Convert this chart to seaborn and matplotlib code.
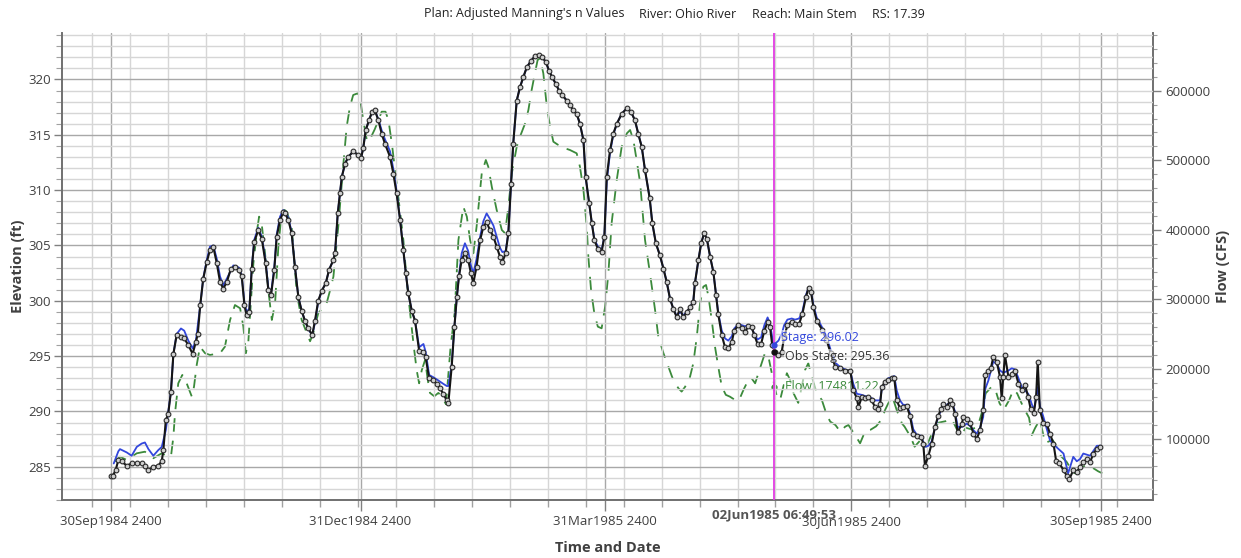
import numpy as np
import pandas as pd
import matplotlib
matplotlib.use("Agg")
import matplotlib.pyplot as plt
import seaborn as sns

# ---------------- data (x = days after 30Sep1984 2400) ----------------
obs_day = [0.0, 0.7, 1.7, 2.7, 3.9, 5.8, 7.6, 9.5, 11.3, 12.5, 13.8, 15.6, 17.4, 18.7, 19.3, 20.2, 21.1,
           22.1, 23.0, 24.2, 25.8, 27.0, 28.5, 30.1, 31.3, 32.0, 32.9, 34.0, 35.3, 36.5, 37.7, 39.0, 40.2,
           41.4, 42.7, 44.2, 45.7, 47.2, 48.2, 49.2, 50.0, 51.0, 51.9, 52.8, 54.3, 55.6, 57.0, 58.0, 59.0,
           60.2, 61.1, 62.3, 63.5, 64.2, 65.4, 66.6, 67.8, 69.1, 70.3, 71.5, 72.8, 74.2, 75.2, 76.4, 77.7,
           79.2, 80.4, 82.0, 82.6, 83.6, 84.4, 85.1, 86.3, 87.5, 89.3, 91.0, 92.2, 93.0, 93.9, 95.1, 96.3,
           97.3, 98.6, 99.8, 101.0, 102.9, 104.1, 105.3, 106.6, 107.8, 108.7, 109.6, 110.9, 112.1, 113.6,
           115.2, 116.0, 117.3, 118.8, 120.1, 121.3, 122.5, 123.8, 124.4, 125.6, 126.6, 127.5, 128.3, 129.3,
           130.5, 131.7, 132.7, 133.6, 134.8, 136.1, 137.3, 138.5, 139.7, 141.0, 142.2, 143.4, 144.3, 145.5,
           146.5, 147.5, 148.3, 149.6, 150.8, 152.0, 153.3, 154.9, 156.3, 157.8, 159.0, 160.3, 161.5, 162.7,
           164.0, 165.2, 166.4, 168.0, 169.2, 170.5, 171.7, 172.9, 174.2, 175.0, 176.3, 177.3, 178.2, 179.5,
           180.9, 181.9, 182.8, 184.0, 185.2, 186.5, 188.3, 190.2, 191.7, 193.2, 194.4, 195.7, 196.9, 198.6,
           199.6, 200.9, 202.4, 203.7, 204.9, 206.1, 207.3, 208.6, 209.8, 211.0, 212.3, 213.5, 214.7, 215.3,
           216.6, 217.6, 218.7, 219.7, 220.9, 222.1, 223.1, 223.9, 225.2, 226.4, 227.6, 228.9, 229.8, 231.3,
           232.6, 233.8, 235.0, 236.2, 237.2, 238.4, 239.7, 240.9, 242.1, 243.0, 243.8, 244.8, 246.1, 247.3,
           248.2, 249.4, 251.0, 252.2, 253.7, 254.9, 256.2, 257.2, 258.1, 259.0, 260.2, 262.2, 263.8, 265.3,
           267.1, 268.9, 270.7, 272.6, 273.7, 275.0, 275.6, 276.8, 278.0, 279.2, 280.5, 281.7, 282.7, 283.6,
           284.2, 285.4, 286.6, 287.9, 288.8, 289.7, 290.9, 292.1, 293.4, 294.6, 295.8, 297.1, 298.7, 299.5,
           300.1, 301.4, 302.6, 303.8, 305.0, 306.0, 306.9, 308.1, 309.4, 310.2, 311.2, 312.2, 313.7, 314.3,
           315.5, 316.7, 318.0, 319.2, 320.4, 321.6, 322.3, 323.5, 324.4, 325.3, 326.6, 327.8, 328.4, 329.0,
           329.6, 330.9, 332.1, 333.3, 334.6, 335.8, 337.0, 338.2, 339.1, 340.3, 341.1, 341.7, 342.5, 343.8,
           345.0, 346.2, 347.5, 348.5, 349.7, 351.2, 352.4, 353.4, 354.8, 356.1, 357.3, 358.5, 359.8, 361.0,
           362.2, 363.5, 364.7]
obs_stage = [284.2, 284.2, 284.7, 285.6, 285.5, 285.1, 285.3, 285.3, 285.3, 285.1, 284.7, 285.0, 285.1, 285.5,
             286.5, 289.2, 289.8, 291.8, 295.2, 296.9, 296.7, 296.6, 296.0, 295.2, 296.3, 297.0, 299.6, 302.0,
             303.5, 304.6, 304.9, 303.4, 301.7, 301.1, 301.7, 302.9, 303.1, 302.8, 302.2, 299.6, 298.7, 299.0,
             302.9, 305.3, 306.4, 305.6, 303.4, 301.0, 300.5, 302.8, 305.8, 307.3, 308.0, 307.9, 307.3, 306.1,
             303.1, 300.3, 299.1, 298.2, 297.5, 296.9, 298.2, 300.0, 300.9, 301.6, 302.8, 303.7, 304.3, 307.9,
             309.7, 311.2, 312.4, 313.0, 313.5, 313.2, 312.9, 313.8, 315.4, 316.3, 317.1, 317.2, 316.3, 315.1,
             314.2, 313.0, 311.5, 309.7, 307.3, 304.6, 302.5, 300.7, 299.1, 298.2, 295.5, 295.4, 294.9, 293.0,
             292.8, 292.5, 292.1, 291.6, 291.0, 290.8, 294.0, 297.6, 300.3, 302.2, 303.7, 304.3, 303.7, 302.5,
             301.6, 303.1, 305.5, 306.7, 307.1, 306.4, 305.8, 304.9, 304.0, 303.5, 304.3, 306.1, 310.6, 314.2,
             318.1, 319.3, 320.2, 321.1, 321.7, 322.1, 322.2, 322.0, 321.6, 320.8, 320.2, 319.6, 319.0, 318.6,
             318.1, 317.7, 317.2, 316.9, 316.0, 314.5, 311.2, 308.8, 307.0, 305.5, 304.7, 304.4, 305.8, 311.2,
             313.6, 315.1, 316.0, 316.9, 317.4, 317.1, 316.3, 315.1, 313.9, 311.8, 309.3, 307.0, 305.2, 304.1,
             302.9, 301.7, 300.2, 299.3, 298.5, 299.3, 298.5, 299.0, 299.4, 299.9, 301.6, 303.7, 305.2, 306.1,
             305.6, 304.0, 302.6, 300.5, 298.8, 296.9, 295.8, 295.7, 296.3, 297.3, 297.8, 297.5, 297.2, 297.7,
             297.6, 296.9, 296.1, 296.1, 297.3, 298.1, 297.6, 296.0, 295.4, 295.1, 295.4, 296.7, 297.8, 298.1,
             297.9, 297.9, 298.8, 300.3, 301.2, 300.8, 299.4, 298.2, 297.4, 296.5, 295.3, 294.0, 293.9, 293.7,
             293.7, 291.9, 291.2, 290.4, 291.3, 291.2, 291.3, 291.0, 290.4, 290.2, 290.7, 292.2, 292.7, 292.8,
             293.0, 293.0, 291.0, 290.3, 290.4, 290.5, 289.6, 288.0, 287.8, 287.7, 287.1, 285.1, 286.0, 287.1,
             288.6, 289.6, 290.2, 290.7, 290.4, 291.0, 290.7, 289.8, 288.1, 288.9, 289.5, 289.3, 289.0, 288.0,
             287.5, 288.3, 290.1, 293.3, 293.7, 293.9, 294.9, 294.5, 293.1, 291.2, 293.1, 295.1, 293.1, 293.4,
             293.7, 292.5, 291.9, 292.4, 291.3, 290.2, 289.9, 291.3, 294.5, 290.1, 289.0, 288.9, 288.0, 287.1,
             285.5, 285.3, 284.7, 284.2, 283.9, 284.7, 284.5, 285.0, 285.4, 285.7, 285.4, 286.2, 286.6, 286.8]

sim_day = [1.0, 2.7, 3.3, 5.8, 7.6, 9.5, 11.3, 12.5, 13.8, 15.6, 17.4, 18.7, 20.2, 22.1, 23.0, 24.2, 25.8,
           27.0, 28.5, 30.1, 31.3, 32.9, 34.0, 35.3, 36.5, 37.7, 39.0, 40.2, 41.4, 42.7, 45.1, 47.2, 48.2,
           49.2, 50.0, 51.0, 51.9, 52.8, 54.3, 55.6, 57.0, 58.0, 59.0, 60.2, 61.1, 62.3, 63.5, 64.2, 65.4,
           66.6, 67.8, 69.1, 70.3, 71.5, 72.8, 74.2, 75.2, 76.4, 77.7, 79.2, 80.4, 82.0, 82.6, 83.6, 84.4,
           85.1, 86.3, 87.5, 89.3, 91.0, 92.2, 93.0, 93.9, 95.1, 96.3, 97.3, 98.6, 99.8, 101.0, 102.9, 104.1,
           105.3, 106.6, 107.8, 108.7, 109.6, 110.9, 112.1, 113.6, 115.2, 116.0, 117.3, 118.8, 120.1, 121.3,
           122.5, 123.8, 124.4, 125.6, 126.6, 127.5, 128.3, 129.3, 130.5, 131.7, 132.7, 133.6, 134.8, 136.1,
           137.3, 138.5, 139.7, 141.0, 142.2, 143.4, 144.3, 145.5, 146.5, 147.5, 148.3, 149.6, 150.8, 152.0,
           153.3, 154.9, 156.3, 157.8, 159.0, 160.3, 161.5, 162.7, 164.0, 165.2, 166.4, 168.0, 169.2, 170.5,
           171.7, 172.9, 174.2, 175.0, 176.3, 177.3, 178.2, 179.5, 180.9, 181.9, 182.8, 184.0, 185.2, 186.5,
           188.3, 190.2, 191.7, 193.2, 194.4, 195.7, 196.9, 198.6, 199.6, 200.9, 202.4, 203.7, 204.9, 206.1,
           207.3, 208.6, 209.8, 211.0, 212.3, 213.5, 214.7, 215.3, 216.6, 217.6, 218.7, 219.7, 220.9, 222.1,
           223.1, 223.9, 225.2, 226.4, 227.6, 228.9, 229.8, 231.3, 232.6, 233.8, 235.0, 236.2, 237.2, 238.4,
           239.7, 240.9, 242.1, 243.0, 244.3, 246.1, 247.3, 248.2, 249.4, 251.0, 252.2, 253.7, 254.9, 256.2,
           257.2, 258.1, 259.0, 260.2, 262.2, 263.8, 265.3, 267.1, 268.9, 270.7, 272.6, 273.7, 275.0, 276.8,
           278.0, 280.5, 281.7, 283.6, 284.2, 285.4, 286.6, 287.9, 288.8, 289.7, 290.9, 292.1, 293.4, 294.6,
           295.8, 297.1, 298.7, 300.1, 301.4, 302.6, 303.8, 305.0, 306.0, 306.9, 308.1, 309.4, 310.2, 311.2,
           312.2, 313.7, 315.5, 316.7, 318.0, 319.2, 320.4, 321.6, 322.3, 323.5, 325.3, 326.6, 327.8, 329.0,
           330.9, 332.1, 333.3, 334.6, 335.8, 337.0, 338.2, 340.3, 341.7, 342.5, 343.8, 346.2, 347.5, 348.5,
           351.2, 352.9, 354.8, 356.1, 357.3, 358.5, 361.0, 363.5, 365.0]
sim_stage = [285.3, 286.4, 286.6, 286.3, 286.0, 286.8, 287.1, 287.2, 286.6, 286.0, 286.5, 286.8, 288.3, 291.8,
             295.2, 297.0, 297.5, 297.3, 296.4, 295.7, 296.4, 299.6, 302.0, 303.7, 304.9, 305.0, 303.8, 302.2,
             301.4, 302.0, 303.2, 303.0, 302.3, 299.8, 299.0, 299.3, 303.0, 305.5, 306.6, 305.8, 303.6, 301.2,
             300.7, 303.0, 306.0, 307.6, 308.2, 308.1, 307.5, 306.2, 303.1, 300.3, 299.1, 298.2, 297.4, 296.9,
             298.0, 299.9, 300.9, 301.6, 302.8, 303.7, 304.3, 307.9, 309.7, 311.2, 312.4, 313.0, 313.5, 313.2,
             312.9, 313.8, 315.4, 316.3, 317.1, 317.2, 316.4, 315.4, 314.6, 313.5, 311.9, 309.9, 307.3, 304.6,
             302.5, 300.7, 299.1, 298.2, 295.8, 296.1, 295.4, 293.3, 293.1, 292.9, 292.7, 292.5, 292.3, 292.3,
             294.2, 297.6, 300.3, 302.3, 304.3, 305.2, 304.5, 303.2, 302.5, 303.8, 305.8, 307.2, 307.9, 307.4,
             306.8, 305.8, 304.8, 304.4, 304.5, 306.1, 310.6, 314.2, 318.1, 319.3, 320.2, 321.1, 321.7, 322.1,
             322.2, 322.0, 321.6, 320.8, 320.2, 319.6, 319.0, 318.6, 318.1, 317.7, 317.2, 316.9, 316.0, 314.5,
             311.2, 308.8, 307.0, 305.6, 304.9, 304.6, 305.8, 310.8, 313.4, 315.0, 316.0, 316.9, 317.4, 317.1,
             316.3, 315.1, 313.9, 311.8, 309.3, 307.0, 305.2, 304.1, 302.9, 301.7, 300.2, 299.3, 298.6, 299.0,
             298.7, 299.0, 299.4, 300.0, 301.6, 303.7, 305.2, 306.1, 305.6, 304.0, 302.6, 300.5, 298.9, 297.3,
             296.6, 296.4, 296.8, 297.5, 297.9, 297.8, 297.7, 297.8, 297.6, 297.0, 296.5, 296.7, 297.8, 298.5,
             297.9, 296.0, 296.4, 297.0, 297.8, 298.3, 298.4, 298.3, 298.4, 299.0, 300.5, 301.2, 300.9, 299.6,
             298.5, 297.6, 296.8, 295.6, 294.4, 294.0, 293.8, 293.6, 292.5, 291.6, 291.5, 291.4, 291.2, 291.0,
             291.0, 292.0, 292.6, 293.0, 293.1, 293.2, 291.9, 291.0, 290.6, 290.6, 289.8, 288.4, 287.9, 287.8,
             286.8, 286.9, 287.3, 288.5, 289.5, 290.1, 290.6, 290.6, 290.8, 290.7, 290.0, 288.6, 288.6, 288.9,
             288.7, 288.3, 288.0, 288.5, 289.5, 292.0, 292.8, 294.5, 294.3, 293.7, 293.5, 293.7, 293.9, 293.8,
             293.0, 292.2, 291.9, 291.6, 290.1, 292.2, 290.5, 289.5, 287.4, 287.0, 286.8, 286.2, 284.4, 285.9,
             285.5, 285.7, 286.2, 286.0, 286.9, 286.9]

flow_day = [1.5, 3.3, 5.8, 9.5, 12.5, 15.6, 18.7, 19.9, 22.1, 23.0, 23.6, 24.8, 26.3, 27.9, 29.8, 30.6, 31.6,
            32.8, 34.7, 36.5, 40.2, 42.0, 43.9, 45.7, 47.6, 48.8, 49.7, 50.6, 51.3, 52.5, 53.7, 54.6, 55.6,
            56.8, 58.0, 59.3, 60.5, 61.7, 62.9, 64.0, 64.8, 66.6, 68.5, 70.3, 72.2, 73.4, 74.6, 76.4, 79.5,
            80.8, 82.0, 83.8, 85.7, 86.9, 88.1, 89.3, 91.0, 91.8, 93.0, 94.3, 95.1, 97.3, 99.8, 101.2, 102.3,
            103.7, 104.7, 105.9, 107.8, 109.0, 110.3, 111.5, 112.7, 113.6, 114.6, 115.8, 116.8, 117.6, 119.2,
            120.7, 121.9, 123.5, 125.2, 126.7, 128.1, 129.9, 131.2, 132.4, 133.6, 134.8, 136.7, 138.2, 139.1,
            140.4, 142.2, 144.1, 145.3, 146.5, 147.8, 149.6, 150.8, 152.7, 153.9, 155.1, 156.3, 157.3, 158.2,
            159.4, 160.7, 161.9, 163.1, 164.9, 166.2, 167.4, 169.2, 171.7, 172.9, 174.2, 175.4, 176.0, 177.0,
            178.2, 179.5, 180.9, 182.2, 183.4, 184.6, 186.5, 188.3, 190.2, 191.4, 192.6, 193.8, 195.1, 196.9,
            198.7, 200.6, 201.8, 203.7, 205.5, 207.3, 209.2, 210.4, 211.7, 213.5, 214.7, 216.0, 217.2, 218.4,
            219.4, 220.3, 221.5, 222.7, 223.9, 225.2, 226.7, 228.2, 230.1, 231.6, 233.2, 235.0, 236.2, 237.5,
            238.7, 239.9, 241.1, 242.4, 243.4, 244.6, 245.5, 246.7, 247.9, 249.2, 250.4, 251.6, 253.4, 254.7,
            255.9, 257.1, 258.4, 260.2, 262.1, 263.9, 265.2, 267.1, 268.9, 270.7, 271.9, 274.3, 276.2, 278.0,
            279.9, 282.1, 284.2, 285.4, 286.6, 288.1, 289.7, 291.6, 292.6, 294.8, 296.3, 298.5, 300.6, 302.8,
            305.0, 307.9, 310.1, 311.6, 313.1, 315.2, 317.4, 319.6, 321.0, 322.5, 324.7, 326.1, 327.6, 329.1,
            331.2, 332.7, 334.1, 336.4, 338.5, 339.5, 340.7, 342.5, 344.4, 347.2, 348.7, 350.2, 352.3, 353.8,
            355.2, 357.5, 359.7, 361.8, 364.0, 365.5]
flow_cfs = [66900, 74100, 69300, 78900, 81200, 71800, 78900, 76500, 74100, 102800, 136400, 179500, 191500,
            179500, 160300, 174600, 205800, 232100, 222700, 220200, 222700, 232100, 270500, 292000, 287300,
            260900, 222700, 237300, 280100, 352000, 395100, 419000, 407000, 366300, 313600, 270500, 294500,
            375900, 423800, 428600, 426100, 404700, 308900, 270500, 251900, 239900, 251900, 280100, 294500,
            313600, 332700, 404700, 495700, 548300, 577000, 593800, 596300, 589100, 557900, 529200, 527000,
            545000, 569800, 569800, 557900, 519500, 486400, 448400, 385400, 328700, 280100, 237000, 198600,
            179500, 198600, 213000, 184300, 165700, 160900, 165700, 160900, 149400, 231700, 280500, 385500,
            433300, 419000, 385500, 366300, 404700, 481300, 500400, 490800, 462000, 428600, 399800, 395100,
            433300, 481300, 519500, 533900, 553200, 572300, 601000, 625000, 644100, 646600, 625000, 577000,
            548300, 526700, 522000, 519500, 517200, 514800, 510000, 490800, 457300, 404700, 361500, 313600,
            280100, 260900, 258500, 290000, 338200, 410100, 472400, 519500, 538700, 543500, 529200, 500400,
            467200, 385500, 338200, 284900, 246500, 222700, 203400, 184300, 172400, 167600, 174600, 189000,
            208300, 246500, 294500, 318400, 320800, 304000, 270500, 232100, 203400, 174600, 162900, 160300,
            155500, 155500, 170100, 184300, 186600, 179500, 194000, 208300, 222700, 217800, 198600, 177000,
            160300, 155500, 174600, 194000, 184300, 165700, 151400, 174600, 198600, 208300, 189000, 165700,
            155500, 134000, 124400, 119600, 110000, 117200, 119600, 105300, 93300, 110000, 112400, 117700,
            127600, 141100, 150800, 160300, 141100, 122000, 117200, 102800, 88400, 98000, 88400, 108300,
            122800, 125200, 127600, 115600, 103000, 115600, 113200, 117700, 136200, 165100, 174600, 170100,
            151000, 141100, 155600, 170100, 165100, 145000, 130000, 105000, 115000, 127600, 93900, 98000,
            88400, 75000, 66900, 57400, 50200, 58000, 62000, 58500, 53000, 50200]

major_day = [0, 92, 182, 273, 365]
major_labels = ["30Sep1984 2400", "31Dec1984 2400", "31Mar1985 2400", "30Jun1985 2400", "30Sep1985 2400"]
minor_day = list(range(-7, 380, 14))
elev_ticks = [285, 290, 295, 300, 305, 310, 315, 320]
flow_ticks = [100000, 200000, 300000, 400000, 500000, 600000]

cursor_day = 244.28
cursor_label = "02Jun1985 06:49:53"
cursor_stage = 296.02
cursor_obs = 295.36
cursor_flow = 174811.22

title_parts = ["Plan: Adjusted Manning's n Values", "River: Ohio River", "Reach: Main Stem", "RS: 17.39"]

# ---------------- style ----------------
sns.set_theme(style="white")
plt.rcParams['font.family'] = ['Open Sans', 'DejaVu Sans']
TXT = '#404040'
BLUE = '#3347dc'
GREEN = '#3b8a3b'

fig = plt.figure(figsize=(12.41, 5.58), dpi=100)
ax = fig.add_axes([62 / 1241, 1 - 500 / 558, (1153 - 62) / 1241, (500 - 33) / 558])
ax2 = ax.twinx()

obs_df = pd.DataFrame({"day": obs_day, "stage": obs_stage})
sim_df = pd.DataFrame({"day": sim_day, "stage": sim_stage})
flow_df = pd.DataFrame({"day": flow_day, "flow": flow_cfs})

# flow on the right axis (drawn beneath)
sns.lineplot(data=flow_df, x="day", y="flow", ax=ax2, color=GREEN, linewidth=1.3,
             linestyle=(0, (7.5, 5)), sort=False, estimator=None, legend=False)
# computed and observed stage on the left axis
sns.lineplot(data=sim_df, x="day", y="stage", ax=ax, color=BLUE, linewidth=1.3,
             sort=False, estimator=None, legend=False, zorder=3)
sns.lineplot(data=obs_df, x="day", y="stage", ax=ax, color='#151515', linewidth=1.5,
             marker='o', markersize=3.4, markerfacecolor='#d0d0d0', markeredgecolor='#2a2a2a',
             markeredgewidth=0.8, sort=False, estimator=None, legend=False, zorder=4)

ax.set_zorder(ax2.get_zorder() + 1)
ax.patch.set_visible(False)
ax2.patch.set_visible(True)
ax2.patch.set_facecolor('white')

ax.set_xlim(-18.07, 384.2)
ax.set_ylim(282.0, 324.2)
ax2.set_ylim(11800, 682900)

# grid
ax.set_xticks(major_day)
ax.set_xticklabels(major_labels)
ax.set_xticks(minor_day, minor=True)
ax.set_yticks(elev_ticks)
ax.set_yticks(np.arange(282, 325, 1), minor=True)
ax.grid(True, which='major', axis='both', color='#a8a8a8', linewidth=1.0, zorder=0)
ax.grid(True, which='minor', axis='both', color='#d6d6d6', linewidth=1.0, zorder=0)
ax.set_axisbelow(True)

ax2.set_yticks(flow_ticks)
ax2.set_yticklabels([str(v) for v in flow_ticks])
ax2.set_yticks(np.arange(20000, 680001, 20000), minor=True)
ax2.grid(False)

for a in (ax, ax2):
    a.spines['top'].set_visible(False)
ax.spines['right'].set_visible(False)
ax2.spines['left'].set_visible(False)
ax2.spines['bottom'].set_visible(False)
for s in ('left', 'bottom'):
    ax.spines[s].set_color('#707070')
    ax.spines[s].set_linewidth(1.4)
ax2.spines['right'].set_color('#707070')
ax2.spines['right'].set_linewidth(1.4)

ax.tick_params(axis='x', which='major', length=8, width=1, color='#808080', labelsize=9.5,
               labelcolor=TXT, pad=3, bottom=True)
ax.tick_params(axis='x', which='minor', length=5, width=1, color='#a0a0a0', bottom=True)
ax.tick_params(axis='y', which='major', length=6, width=1, color='#808080', labelsize=9.5,
               labelcolor=TXT, pad=2, left=True)
ax.tick_params(axis='y', which='minor', length=4, width=0.8, color='#a0a0a0', left=True)
ax2.tick_params(axis='y', which='major', length=6, width=1, color='#808080', labelsize=9.5,
                labelcolor=TXT, pad=3, right=True)
ax2.tick_params(axis='y', which='minor', length=3, width=0.8, color='#a0a0a0', right=True)

ax.set_xlabel("Time and Date", fontsize=10.5, fontweight='bold', color=TXT, labelpad=9)
ax.set_ylabel("Elevation (ft)", fontsize=10.5, fontweight='bold', color=TXT, labelpad=2)
ax2.set_ylabel("Flow (CFS)", fontsize=10.5, fontweight='bold', color=TXT, labelpad=4)

# cursor
ax.axvline(cursor_day, color='#e23ce2', linewidth=1.3, zorder=5)
ax.plot([cursor_day], [cursor_stage], 'o', color=BLUE, markersize=3.5, zorder=6)
ax.plot([cursor_day], [cursor_obs], 'o', color='#111111', markersize=3.5, zorder=6)
ax2.plot([cursor_day], [cursor_flow], 'o', color=GREEN, markersize=3.5, zorder=6)
box = dict(facecolor='white', alpha=0.55, edgecolor='none', pad=0.5)
ax.text(cursor_day + 2.8, cursor_stage + 0.7, f"Stage: {cursor_stage:.2f}", color=BLUE,
        fontsize=9, va='center', ha='left', bbox=box, zorder=7)
ax.text(cursor_day + 4.3, cursor_obs - 0.35, f"Obs Stage: {cursor_obs:.2f}", color='#333333',
        fontsize=9, va='center', ha='left', bbox=box, zorder=7)
ax2.text(cursor_day + 4.3, cursor_flow, f"Flow: {cursor_flow:.2f}", color=GREEN,
         fontsize=9, va='center', ha='left', bbox=box, zorder=7)
ax.annotate(cursor_label, xy=(cursor_day, 0), xycoords=('data', 'axes fraction'),
            xytext=(0, -10.5), textcoords='offset points', ha='center', va='center',
            fontsize=9.5, fontweight='bold', color='#555555', annotation_clip=False)

# header
xs = [424, 639, 752, 872]
for x, t in zip(xs, title_parts):
    fig.text(x / 1241, 1 - 14 / 558, t, fontsize=9, color='#222222', ha='left', va='center')

fig.savefig("out.png", dpi=100)
